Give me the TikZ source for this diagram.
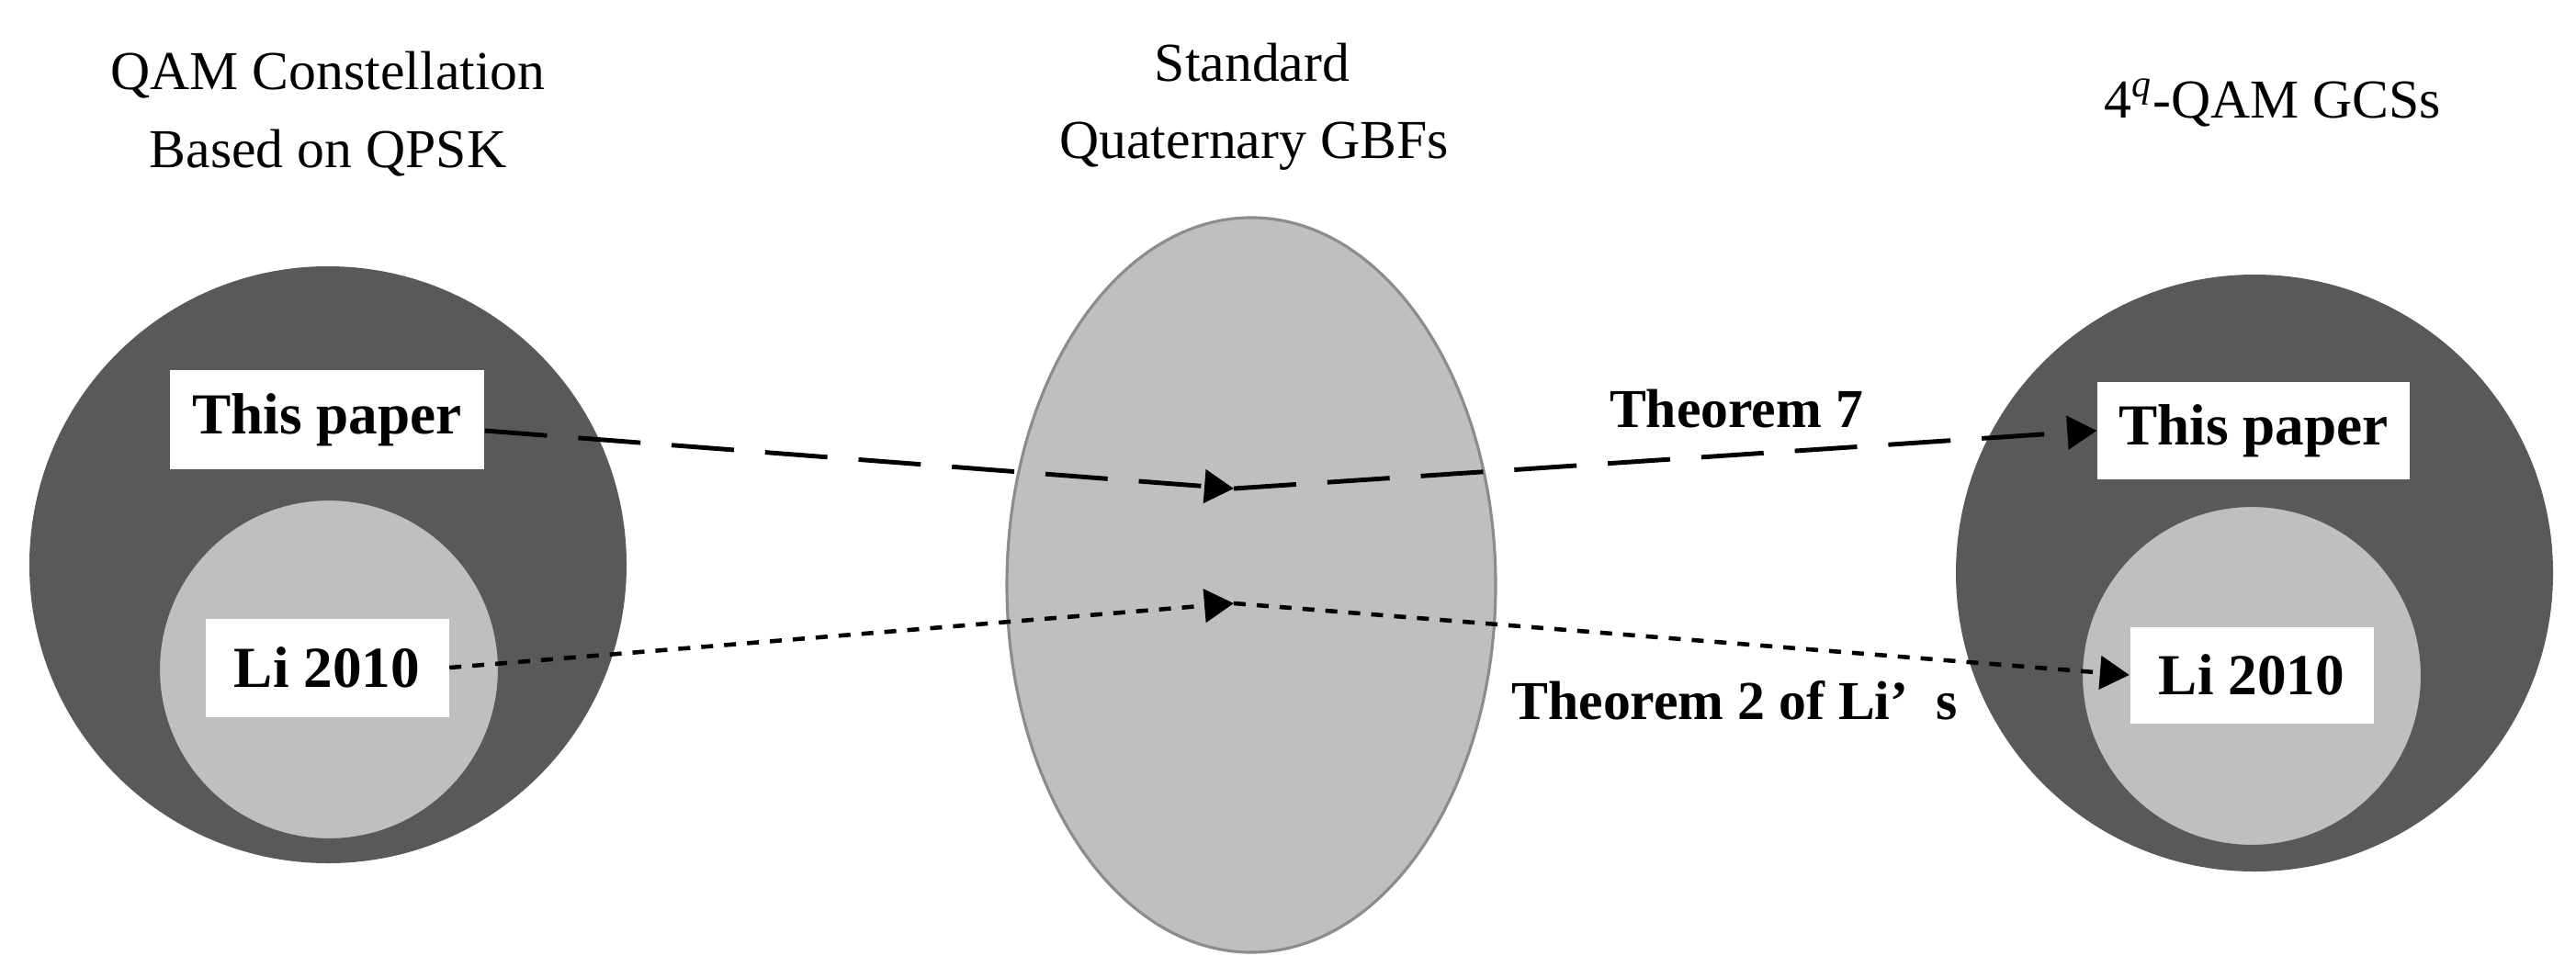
\documentclass[tikz,border=0pt]{standalone}
\usepackage{fontspec}
\setmainfont{Liberation Serif}
\usetikzlibrary{arrows.meta,shapes.geometric}
\definecolor{darkg}{HTML}{595959}
\definecolor{lightg}{HTML}{BFBFBF}
\definecolor{rimg}{HTML}{8C8C8C}
\begin{document}
\begin{tikzpicture}[
  outerdisc/.style={circle, fill=darkg, draw=none, minimum size=6.5cm, inner sep=0pt},
  innerdisc/.style={circle, fill=lightg, draw=black!65, line width=0.6pt, minimum size=3.7cm, inner sep=0pt},
  middisc/.style={ellipse, fill=lightg, draw=rimg, line width=0.9pt, minimum width=5.32cm, minimum height=8cm, inner sep=0pt},
  labelbox/.style={fill=white, draw=none, inner sep=0pt, font=\bfseries\fontsize{18}{20}\selectfont},
  ttl/.style={font=\fontsize{17}{20}\selectfont, inner sep=0pt, anchor=base},
  thm/.style={font=\bfseries\fontsize{17}{20}\selectfont, inner sep=0pt, anchor=base},
  tip/.style={-{Triangle[length=0.32cm,width=0.36cm]}},
  longdash/.style={line width=1.4pt, dash pattern=on 0.68cm off 0.34cm, tip},
  shortdash/.style={line width=1.3pt, dash pattern=on 0.13cm off 0.12cm, tip}
]
\useasboundingbox (0,0) rectangle (28.04,10.64);
\fill[white] (0,0) rectangle (28.04,10.64);

% left group
\node[outerdisc] (oL) at (3.57,4.49) {};
\node[innerdisc] (iL) at (3.58,3.35) {};
\node[labelbox, minimum width=3.42cm, minimum height=1.08cm] (tpL) at (3.56,6.07) {This paper};
\node[labelbox, minimum width=2.65cm, minimum height=1.07cm] (liL) at (3.56,3.37) {Li 2010};

% middle
\node[middisc] (gbf) at (13.62,4.27) {};

% right group
\node[outerdisc] (oR) at (24.54,4.40) {};
\node[innerdisc] (iR) at (24.51,3.28) {};
\node[labelbox, minimum width=3.40cm, minimum height=1.06cm] (tpR) at (24.53,5.95) {This paper};
\node[labelbox, minimum width=2.65cm, minimum height=1.05cm] (liR) at (24.51,3.29) {Li 2010};

% meeting points
\coordinate (mA) at (13.43,5.32);
\coordinate (mB) at (13.43,4.07);

% connectors
\draw[longdash] ([yshift=-0.12cm]tpL.east) -- (mA);
\draw[longdash] (mA) -- (tpR.west);
\draw[shortdash] (liL.east) -- (mB);
\draw[shortdash] (mB) -- (liR.west);

% titles
\node[ttl] (t1a) at (3.57,9.67) {QAM Constellation};
\node[ttl] (t1b) at (3.57,8.82) {Based on QPSK};
\node[ttl] (t2a) at (13.63,9.76) {Standard};
\node[ttl] (t2b) at (13.65,8.92) {Quaternary GBFs};
\node[ttl] (t3) at (24.74,9.36) {4\textsuperscript{\textit{q}}-QAM GCSs};

% connector labels
\node[thm] (th7) at (18.90,5.99) {Theorem 7};
\node[thm] (th2) at (18.88,2.81) {Theorem 2 of Li’\hspace{0.5em}s};
\end{tikzpicture}
\end{document}
